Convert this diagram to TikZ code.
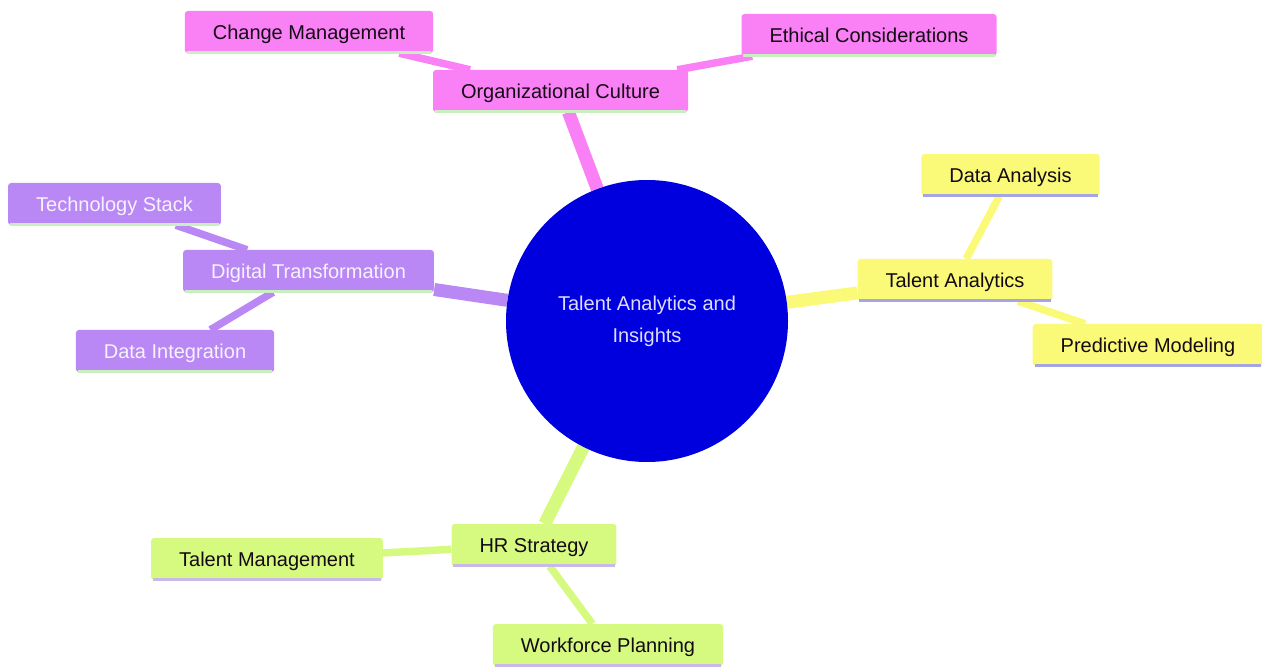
\documentclass[tikz,border=0pt]{standalone}
\usepackage{fontspec}
\setmainfont{Liberation Sans}
\usetikzlibrary{backgrounds}
\definecolor{pinkc}{RGB}{250,128,246}
\definecolor{purpc}{RGB}{186,136,245}
\definecolor{yelc}{RGB}{250,250,120}
\definecolor{grnc}{RGB}{214,250,128}
\definecolor{rootc}{RGB}{0,0,222}
\definecolor{roottxt}{RGB}{222,220,255}
\definecolor{linegreen}{RGB}{200,240,190}
\definecolor{linelav}{RGB}{165,165,230}
\definecolor{linelav2}{RGB}{200,185,232}
\definecolor{darktxt}{RGB}{20,10,20}
\definecolor{lighttxt}{RGB}{246,242,255}
\begin{document}
\begin{tikzpicture}[x=1pt,y=-1pt,
  box/.style={rounded corners=3pt, minimum height=42pt, inner xsep=28pt, inner ysep=0pt,
    font=\fontsize{20}{24}\selectfont, text height=17pt, text depth=2.5pt},
  pinkbox/.style={box, fill=pinkc, text=darktxt},
  purpbox/.style={box, fill=purpc, text=lighttxt},
  yelbox/.style={box, fill=yelc, text=darktxt},
  grnbox/.style={box, fill=grnc, text=darktxt},
  lvone/.style={line width=13pt},
  lvtwo/.style={line width=7.5pt},
  baseline/.style={line width=3pt}
]
\useasboundingbox (0,0) rectangle (1262,668);

\node[circle, fill=rootc, minimum size=282pt, inner sep=0pt, text=roottxt,
  align=center, font=\fontsize{20}{32}\selectfont] (root) at (647,321)
  {Talent Analytics and\\Insights};

\node[pinkbox] (org) at (560.5,91) {Organizational Culture};
\node[pinkbox] (chg) at (309,32) {Change Management};
\node[pinkbox] (eth) at (869,35) {Ethical Considerations};

\node[purpbox] (dig) at (308.5,271) {Digital Transformation};
\node[purpbox] (tech) at (114.5,204) {Technology Stack};
\node[purpbox] (dint) at (175,351) {Data Integration};

\node[yelbox] (ta) at (955,280) {Talent Analytics};
\node[yelbox] (da) at (1010.5,175) {Data Analysis};
\node[yelbox] (pm) at (1148,345) {Predictive Modeling};

\node[grnbox] (hr) at (534,545) {HR Strategy};
\node[grnbox] (tm) at (267,559) {Talent Management};
\node[grnbox] (wp) at (608,645) {Workforce Planning};

\foreach \n/\c in {org/linegreen,chg/linegreen,eth/linegreen,dig/linegreen,tech/linegreen,dint/linegreen,ta/linelav,da/linelav,pm/linelav,hr/linelav2,tm/linelav2,wp/linelav2}{
  \draw[baseline, draw=\c] ([xshift=2pt,yshift=1pt]\n.south west) -- ([xshift=-2pt,yshift=1pt]\n.south east);
}

\begin{pgfonlayer}{background}
\draw[lvone, pinkc] (root) -- (org);
\draw[lvtwo, pinkc] (org) -- (chg);
\draw[lvtwo, pinkc] (org) -- (eth);
\draw[lvone, purpc] (root) -- (dig);
\draw[lvtwo, purpc] (dig) -- (tech);
\draw[lvtwo, purpc] (dig) -- (dint);
\draw[lvone, yelc] (root) -- (ta);
\draw[lvtwo, yelc] (ta) -- (da);
\draw[lvtwo, yelc] (ta) -- (pm);
\draw[lvone, grnc] (root) -- (hr);
\draw[lvtwo, grnc] (hr) -- (tm);
\draw[lvtwo, grnc] (hr) -- (wp);
\end{pgfonlayer}
\end{tikzpicture}
\end{document}
